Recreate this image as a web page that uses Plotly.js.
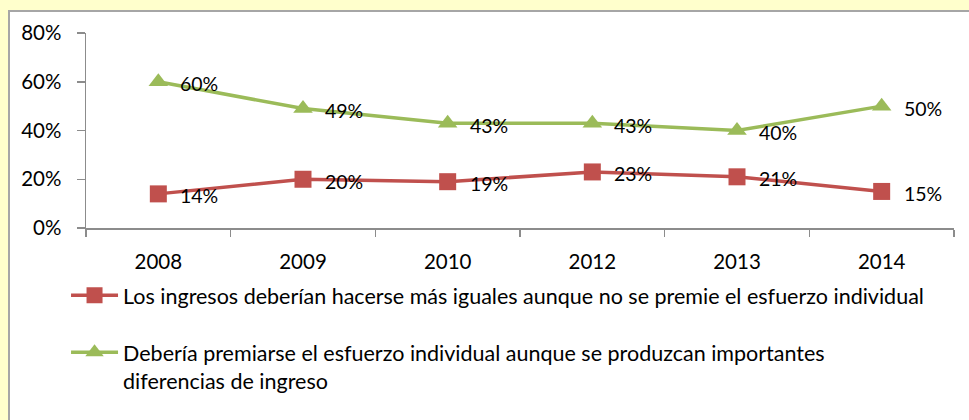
<!DOCTYPE html>
<html>
<head>
<meta charset="utf-8">
<script src="https://cdn.plot.ly/plotly-3.0.1.min.js"></script>
<style>
  html, body { margin: 0; padding: 0; background: #FFFFCC; width: 969px; height: 420px; overflow: hidden; }
  #frame { position: absolute; left: 8px; top: 10px; width: 961px; height: 410px; background: #FFFFFF;
           border-left: 2px solid #A6A6A6; border-top: 2px solid #A6A6A6; box-sizing: border-box; }
  #chart { position: absolute; left: 0; top: 0; width: 969px; height: 420px; }
</style>
</head>
<body>
<div id="frame"></div>
<div id="chart"></div>
<script>
const years = ['2008', '2009', '2010', '2012', '2013', '2014'];
const igualesValues = [0.14, 0.20, 0.19, 0.23, 0.21, 0.15];
const esfuerzoValues = [0.60, 0.49, 0.43, 0.43, 0.40, 0.50];
const seriesNames = [
  'Los ingresos deberían hacerse más iguales aunque no se premie el esfuerzo individual',
  'Debería premiarse el esfuerzo individual aunque se produzcan importantes<br>diferencias de ingreso'
];
const yTickVals = [0, 0.2, 0.4, 0.6, 0.8];
const yTickText = ['0%', '20%', '40%', '60%', '80%'];

const FONT = 'Lato, "Open Sans", sans-serif';
const pct = v => Math.round(v * 100) + '%';

const traces = [
  {
    x: years, y: igualesValues, name: seriesNames[0], type: 'scatter', mode: 'lines+markers',
    line: { color: '#C0504D', width: 3.5 },
    marker: { symbol: 'square', size: 17, color: '#C0504D' },
    legendgroup: 'a', hoverinfo: 'x+y'
  },
  {
    x: years, y: esfuerzoValues, name: seriesNames[1], type: 'scatter', mode: 'lines+markers',
    line: { color: '#9BBB59', width: 3.5 },
    marker: { symbol: 'triangle-up', size: 17, color: '#9BBB59' },
    legendgroup: 'b', hoverinfo: 'x+y'
  }
];

// category axis: annotations use the category index on the axis scale
const labelAnn = (vals) => vals.map((v, i) => ({
  x: i, y: v, xref: 'x', yref: 'y', text: pct(v), showarrow: false,
  xanchor: 'left', yanchor: 'middle', xshift: 20, yshift: -2,
  font: { family: FONT, size: 19.5, color: '#000' }
}));

const layout = {
  width: 969, height: 420,
  margin: { l: 86, r: 15, t: 33, b: 192 },
  paper_bgcolor: 'rgba(0,0,0,0)', plot_bgcolor: 'rgba(0,0,0,0)',
  font: { family: FONT, size: 20, color: '#000' },
  showlegend: true,
  annotations: labelAnn(igualesValues).concat(labelAnn(esfuerzoValues)),
  legend: {
    x: -0.023, xanchor: 'left', y: -0.24, yanchor: 'top',
    orientation: 'v', traceorder: 'grouped', tracegroupgap: 26,
    valign: 'top', itemwidth: 47, bgcolor: 'rgba(0,0,0,0)',
    font: { family: FONT, size: 21.5, color: '#000' }
  },
  xaxis: {
    type: 'category', showgrid: false, zeroline: false,
    showline: true, linecolor: '#8C8C8C', linewidth: 1.5,
    ticks: 'outside', tickson: 'boundaries', ticklen: 7, tickcolor: '#8C8C8C', tickwidth: 1.5,
    tickfont: { family: FONT, size: 20.5, color: '#000' },
    ticklabelstandoff: 15,
    range: [-0.5, 5.5]
  },
  yaxis: {
    range: [0, 0.8], tickvals: yTickVals, ticktext: yTickText,
    showgrid: false, zeroline: false,
    showline: true, linecolor: '#8C8C8C', linewidth: 1.5,
    ticks: 'outside', ticklen: 8, tickcolor: '#8C8C8C', tickwidth: 1.5,
    tickfont: { family: FONT, size: 20.5, color: '#000' },
    ticklabelstandoff: 11
  }
};

Plotly.newPlot('chart', traces, layout, { displayModeBar: false, staticPlot: true });
</script>
</body>
</html>
